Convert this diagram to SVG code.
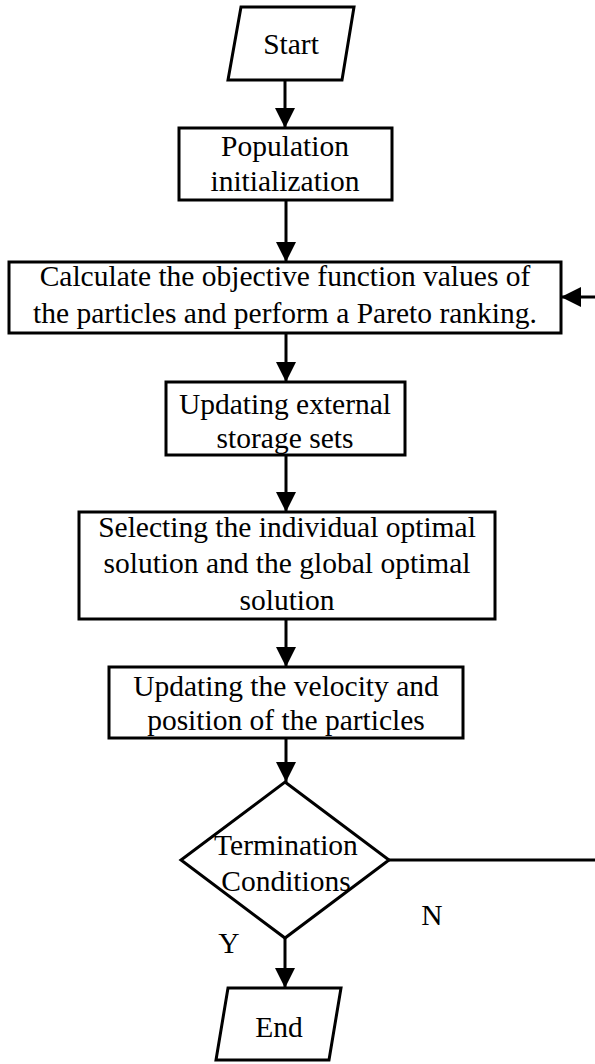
<svg xmlns="http://www.w3.org/2000/svg" width="595" height="1064" viewBox="0 0 595 1064">
<style>
.shape{fill:#fff;stroke:#000;stroke-width:3}
.t{font-family:"Liberation Serif","Times New Roman",serif;font-size:29.5px;fill:#000;text-anchor:middle}
.c{fill:none;stroke:#000;stroke-width:3}
</style>
<defs>
<marker id="ah" markerUnits="userSpaceOnUse" markerWidth="20" markerHeight="20" refX="20" refY="10" orient="auto" viewBox="0 0 20 20">
<path d="M0,0 L20,10 L0,20 z" fill="#000"/>
</marker>
</defs>
<g id="connectors">
<path class="c" d="M285,80 V128" marker-end="url(#ah)"/>
<path class="c" d="M286,200 V262" marker-end="url(#ah)"/>
<path class="c" d="M286,333 V382" marker-end="url(#ah)"/>
<path class="c" d="M286,455 V512" marker-end="url(#ah)"/>
<path class="c" d="M286,619 V667" marker-end="url(#ah)"/>
<path class="c" d="M286,738 V782" marker-end="url(#ah)"/>
<path class="c" d="M389,860 H600 V297 H561" marker-end="url(#ah)"/>
<path class="c" d="M285,938 V988" marker-end="url(#ah)"/>
</g>
<g id="start">
<polygon class="shape" points="241,7 354,7 342,80 228,80"/>
<text class="t" x="291" y="54">Start</text>
</g>
<g id="init">
<rect class="shape" x="179" y="128" width="213" height="72"/>
<text class="t" x="285" y="156">Population</text>
<text class="t" x="285" y="191">initialization</text>
</g>
<g id="calc">
<rect class="shape" x="9" y="262" width="552" height="71"/>
<text class="t" x="285" y="286">Calculate the objective function values of</text>
<text class="t" x="285" y="323">the particles and perform a Pareto ranking.</text>
</g>
<g id="update">
<rect class="shape" x="166" y="382" width="239" height="73"/>
<text class="t" x="285" y="414">Updating external</text>
<text class="t" x="285" y="448">storage sets</text>
</g>
<g id="select">
<rect class="shape" x="79" y="512" width="416" height="107"/>
<text class="t" x="287" y="537">Selecting the individual optimal</text>
<text class="t" x="287" y="573">solution and the global optimal</text>
<text class="t" x="287" y="610">solution</text>
</g>
<g id="velocity">
<rect class="shape" x="109" y="667" width="354" height="71"/>
<text class="t" x="286" y="696">Updating the velocity and</text>
<text class="t" x="286" y="730">position of the particles</text>
</g>
<g id="decision">
<polygon class="shape" points="285,782 389,860 285,938 181,860"/>
<text class="t" x="286" y="855">Termination</text>
<text class="t" x="286" y="891">Conditions</text>
</g>
<g id="end">
<polygon class="shape" points="228,988 341,988 329,1060 216,1060"/>
<text class="t" x="279" y="1037">End</text>
</g>
<g id="labels">
<text class="t" x="432" y="925">N</text>
<text class="t" x="229" y="953">Y</text>
</g>
</svg>
